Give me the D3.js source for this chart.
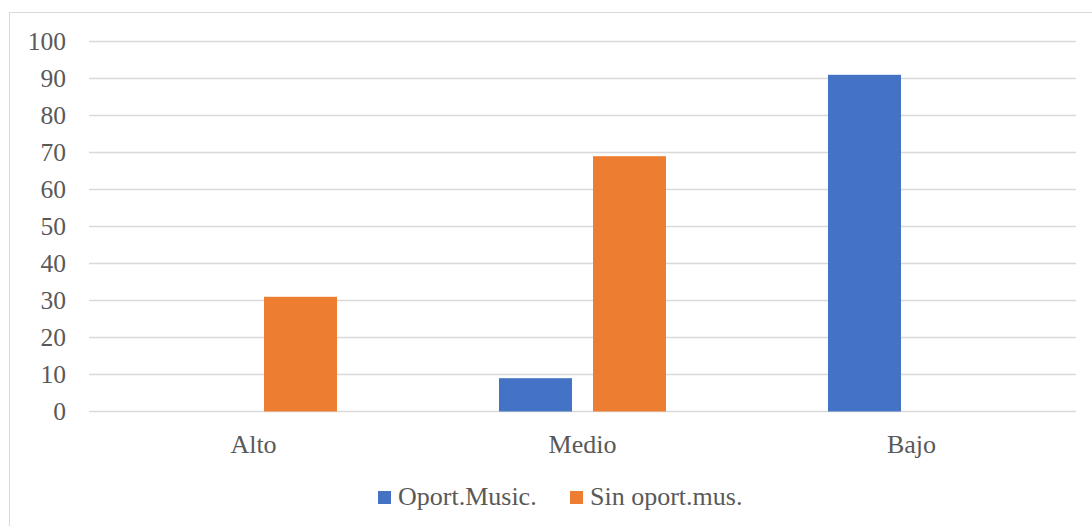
<!DOCTYPE html>
<html><head><meta charset="utf-8">
<script src="https://cdn.jsdelivr.net/npm/d3@7/dist/d3.min.js"></script>
<style>body{margin:0;background:#fff}svg{display:block}</style>
</head><body><svg id="c" width="1092" height="526"></svg>
<script>
const categories = ["Alto","Medio","Bajo"];
const seriesNames = ["Oport.Music.","Sin oport.mus."];
const oportMusic = [0, 9, 91];
const sinOport = [31, 69, 0];
const yTicks = [0,10,20,30,40,50,60,70,80,90,100];
const colors = ["#4472c4","#ed7d31"];
const values = [oportMusic, sinOport];

const FONT = "'Liberation Serif', Tinos, 'Times New Roman', serif";
const TXT = "#595959";
function styleText(sel, size){
  return sel.style("font-family", FONT, "important").style("font-size", size+"px", "important")
    .style("fill", TXT, "important").attr("font-family", FONT).attr("font-size", size).attr("fill", TXT);
}
const svg = d3.select("#c");
svg.append("rect").attr("x",9.5).attr("y",12.5).attr("width",1100).attr("height",600)
  .attr("fill","none").attr("stroke","#d9d9d9").attr("stroke-width",1);

const L=89, R=1076, T=41.5, B=411.5;
const y = d3.scaleLinear().domain([0,100]).range([B,T]);
const x0 = d3.scaleBand().domain(categories).range([L,R]).paddingInner(0.4924).paddingOuter(0.2462);
const x1 = d3.scaleBand().domain(seriesNames).range([0,x0.bandwidth()]).paddingInner(0.2234);

svg.append("g").selectAll("line").data(yTicks).join("line")
  .attr("x1",L).attr("x2",R).attr("y1",d=>y(d)).attr("y2",d=>y(d))
  .attr("stroke","#d9d9d9").attr("stroke-width",1.5);

styleText(svg.append("g").selectAll("text").data(yTicks).join("text")
  .attr("x",66).attr("y",d=>y(d)+8.5).attr("text-anchor","end").text(d=>d), 25.5);

seriesNames.forEach((s,si)=>{
  svg.append("g").selectAll("rect").data(categories).join("rect")
    .attr("x",c=>x0(c)+x1(s)).attr("width",x1.bandwidth())
    .attr("y",(c,i)=>y(values[si][i])).attr("height",(c,i)=>y(0)-y(values[si][i]))
    .attr("fill",colors[si]);
});

styleText(svg.append("g").selectAll("text").data(categories).join("text")
  .attr("x",c=>x0(c)+x0.bandwidth()/2).attr("y",453).attr("text-anchor","middle").text(c=>c), 26);

const leg = [{x:378,tx:398},{x:570,tx:590}];
seriesNames.forEach((s,i)=>{
  svg.append("rect").attr("x",leg[i].x).attr("y",491).attr("width",13).attr("height",13).attr("fill",colors[i]);
  styleText(svg.append("text").attr("x",leg[i].tx).attr("y",505).text(s), 26);
});
</script></body></html>
